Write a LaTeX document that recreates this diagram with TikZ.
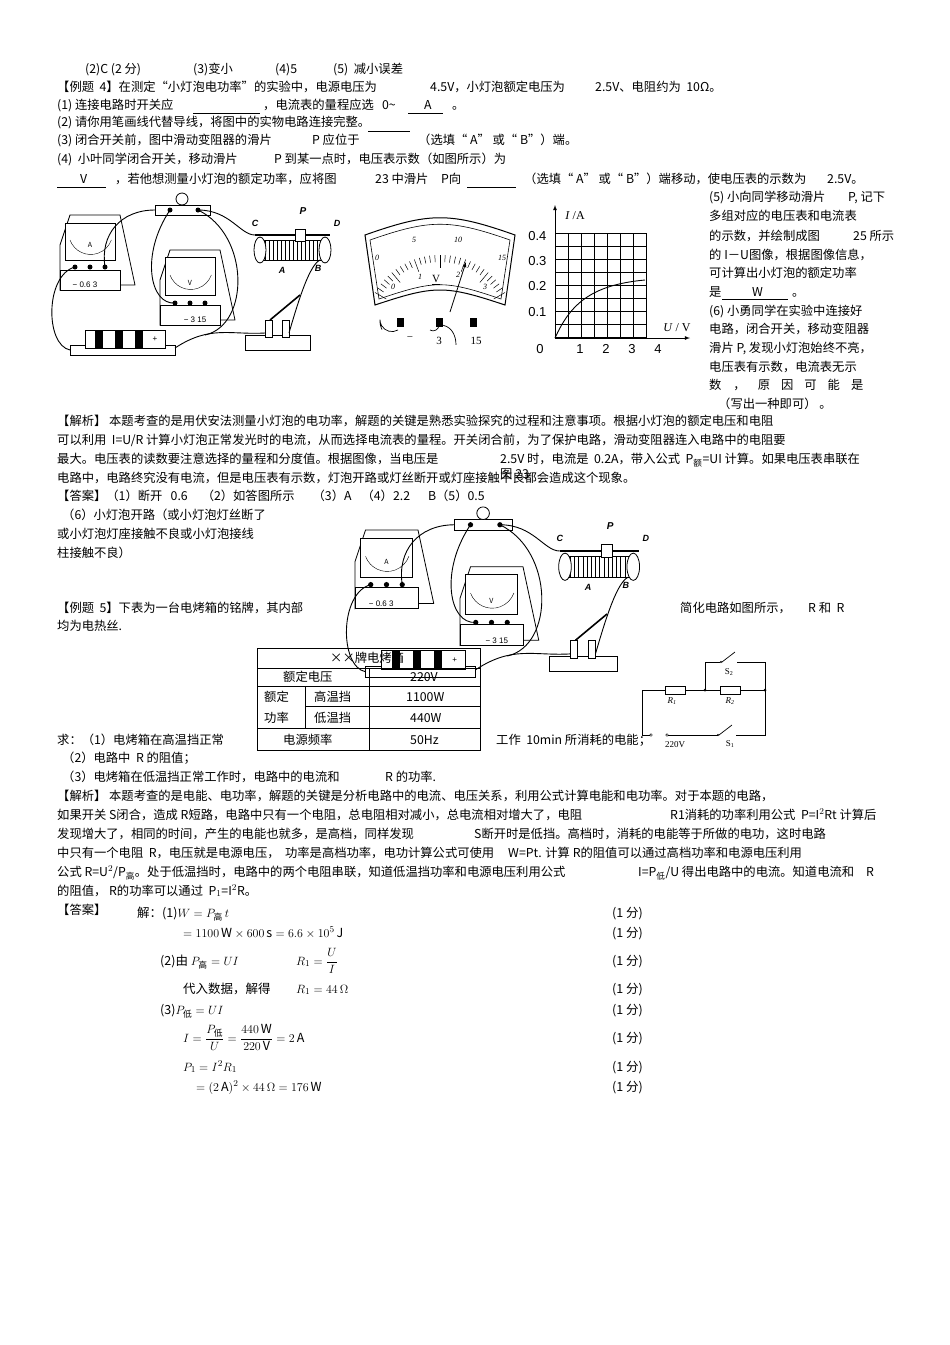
\documentclass[tikz,border=0pt]{standalone}
\usepackage{amsmath}
\usepackage{fontspec}
\setmainfont{Noto Sans CJK SC}
\newfontfamily\lat{Liberation Sans}
\newfontfamily\srf{Liberation Serif}
\begin{document}
\begin{tikzpicture}[x=1pt,y=-1pt,
 txt/.style={anchor=base west,inner sep=0,font=\fontsize{12.3}{14}\selectfont},
 blank/.style={line width=0.6pt},
 dev/.style={draw,line width=0.8pt,fill=white},
 wire/.style={line width=0.9pt},
 grid/.style={line width=0.6pt}]
\useasboundingbox (0,0) rectangle (950,1345);
\newcommand\Tx[3]{\node[txt] at (#1,#2) {#3};}
\newcommand\Ul[3]{\draw[blank] (#1,#3)--(#2,#3);}
% ---------- header lines
\Tx{85}{73}{(2)C (2 分)}
\Tx{193}{73}{(3)变小}
\Tx{275}{73}{(4)5}
\Tx{333}{73}{(5)\ \ 减小误差}
\Tx{57}{91}{【例题\ \ 4】在测定“小灯泡电功率”的实验中，电源电压为}
\Tx{430}{91}{4.5V，小灯泡额定电压为}
\Tx{595}{91}{2.5V、电阻约为\ \ 10Ω。}
\Tx{57}{109}{(1) 连接电路时开关应}
\Ul{193}{260}{113}
\Tx{263}{109}{，电流表的量程应选\ \ \ 0\textasciitilde}
\Tx{424}{109}{A}
\Ul{408}{443}{113}
\Tx{452}{109}{。}
\Tx{57}{126}{(2) 请你用笔画线代替导线，将图中的实物电路连接完整。}
\Tx{57}{144}{(3) 闭合开关前，图中滑动变阻器的滑片}
\Tx{312}{144}{P 应位于}
\Ul{368}{410}{131}
\Tx{418}{144}{（选填“ A” 或“ B”）端。}
\Tx{57}{163}{(4)\ \ 小叶同学闭合开关，移动滑片}
\Tx{274}{163}{P 到某一点时，电压表示数（如图所示）为}
\Ul{57}{106}{187}
\Tx{80}{183}{V}
\Tx{115}{183}{，若他想测量小灯泡的额定功率，应将图}
\Tx{375}{183}{23 中滑片}
\Tx{441}{183}{P向}
\Ul{467}{516}{187}
\Tx{524}{183}{（选填“ A” 或“ B”）端移动，使电压表的示数为}
\Tx{827}{183}{2.5V。}
% ---------- right column
\Tx{709}{201}{(5) 小向同学移动滑片}
\Tx{848}{201}{P, 记下}
\Tx{709}{220}{多组对应的电压表和电流表}
\Tx{709}{240}{的示数，并绘制成图}
\Tx{853}{240}{25 所示}
\Tx{709}{259}{的 I－U图像，根据图像信息，}
\Tx{709}{277}{可计算出小灯泡的额定功率}
\Tx{709}{296}{是}
\Tx{752}{296}{W}
\Ul{722}{788}{299}
\Tx{792}{296}{。}
\Tx{709}{315}{(6) 小勇同学在实验中连接好}
\Tx{709}{333}{电路，闭合开关，移动变阻器}
\Tx{709}{352}{滑片 P, 发现小灯泡始终不亮，}
\Tx{709}{371}{电压表有示数，电流表无示}
\Tx{709}{389}{数\hspace{12pt}，\hspace{12pt}原\hspace{11pt}因\hspace{11pt}可\hspace{11pt}能\hspace{11pt}是}
\Tx{718}{408}{（写出一种即可）\ 。}
% ---------- circuit (figure 1) as reusable pic
\tikzset{circuit/.pic={
 \draw[dev] (0,30)--(10,0)--(60,0)--(75,70)--(10,70)--(0,75)--cycle;
 \draw[dev] (5,8) rectangle (55,45);
 \draw (10,25) arc[start angle=160,end angle=20,radius=22];
 \node[font=\fontsize{7}{7}\selectfont,inner sep=0] at (30,30) {A};
 \draw[dev] (0,55) rectangle (60,75);
 \node[font=\fontsize{8}{8}\selectfont,inner sep=0] at (25,70) {\lat − 0.6 3};
 \foreach \x in {15,30,45}{\fill (\x,52) circle (2.5);}
 \draw[dev] (95,-10) rectangle (150,0);
 \draw[dev] (122,-16) circle (6);
 \fill (110,-5) circle (2.5); \fill (138,-5) circle (2.5);
 \draw[dev] (100,65)--(110,35)--(160,35)--(175,105)--(110,105)--(100,110)--cycle;
 \draw[dev] (105,42) rectangle (155,80);
 \draw (110,60) arc[start angle=160,end angle=20,radius=22];
 \node[font=\fontsize{7}{7}\selectfont,inner sep=0] at (130,68) {V};
 \draw[dev] (100,90) rectangle (160,110);
 \node[font=\fontsize{8}{8}\selectfont,inner sep=0] at (135,105) {\lat − 3 15};
 \foreach \x in {115,130,145}{\fill (\x,88) circle (2.5);}
 \draw[line width=1.5pt] (195,20)--(270,20);
 \draw[dev] (200,25) rectangle (265,45);
 \foreach \x in {205,209,...,260}{\draw (\x,25)--(\x,45);}
 \draw[dev] (235,14) rectangle (245,26);
 \draw[dev] (200,35) ellipse (6 and 13); \draw[dev] (265,35) ellipse (6 and 13);
 \node[font=\bfseries\itshape\fontsize{9}{9}\selectfont] at (195,8) {\lat C};
 \node[font=\bfseries\itshape\fontsize{10}{10}\selectfont] at (243,-4) {\lat P};
 \node[font=\bfseries\itshape\fontsize{9}{9}\selectfont] at (277,8) {\lat D};
 \node[font=\bfseries\itshape\fontsize{9}{9}\selectfont] at (222,55) {\lat A};
 \node[font=\bfseries\itshape\fontsize{9}{9}\selectfont] at (258,53) {\lat B};
 \draw[dev] (10,130) rectangle (115,140);
 \draw[dev] (25,115) rectangle (105,133);
 \foreach \x in {35,55,75}{\fill (\x,115) rectangle (\x+8,133);}
 \node[font=\fontsize{8}{8}\selectfont] at (95,124) {\lat +};
 \draw[dev] (185,120) rectangle (250,135);
 \draw[dev] (205,105) rectangle (212,122);\draw[dev] (222,105) rectangle (229,122);
 \draw[line width=1.6pt] (210,105)--(240,80);
 \draw[wire] (110,-5) .. controls (80,40) and (90,90) .. (115,88);
 \draw[wire] (138,-5) .. controls (190,20) and (190,110) .. (145,120);
 \draw[wire] (138,-5) .. controls (170,-5) and (180,20) .. (195,20);
 \draw[wire] (15,52) .. controls (-15,60) and (-15,130) .. (10,135);
 \draw[wire] (115,133) .. controls (150,110) and (170,120) .. (205,118);
 \draw[wire] (229,118) .. controls (240,80) and (250,50) .. (260,45);
 \draw[wire] (95,-5) .. controls (60,-5) and (40,20) .. (45,52);
}}
\pic at (60,215) {circuit};
\pic[scale=1.05] at (355,530) {circuit};
% ---------- voltmeter dial
\draw[line width=1pt] (365,235) .. controls (430,212) and (450,212) .. (515,235) -- (505,305) .. controls (445,285) and (435,285) .. (375,305) -- cycle;
\draw[line width=0.6pt] (370,240) .. controls (430,219) and (450,219) .. (510,240) -- (501,299) .. controls (445,280) and (435,280) .. (379,299) -- cycle;
\foreach \a in {0,...,30}{
 \pgfmathsetmacro\rr{mod(\a,5)==0?62:68}
 \draw[line width=0.5pt] ({440+75*cos(150-4*\a)},{330-75*sin(150-4*\a)})--({440+\rr*cos(150-4*\a)},{330-\rr*sin(150-4*\a)});}
\node[font=\srf\itshape\fontsize{8}{8}\selectfont] at (377,258) {0};
\node[font=\srf\itshape\fontsize{8}{8}\selectfont] at (414,240) {5};
\node[font=\srf\itshape\fontsize{8}{8}\selectfont] at (458,240) {10};
\node[font=\srf\itshape\fontsize{8}{8}\selectfont] at (502,258) {15};
\node[font=\srf\itshape\fontsize{8}{8}\selectfont] at (393,287) {0};
\node[font=\srf\itshape\fontsize{8}{8}\selectfont] at (420,277) {1};
\node[font=\srf\itshape\fontsize{8}{8}\selectfont] at (458,275) {2};
\node[font=\srf\itshape\fontsize{8}{8}\selectfont] at (485,287) {3};
\node[font=\srf\fontsize{11}{11}\selectfont] (vlab) at (436,280) {\underline{V}};
\draw[-latex,line width=0.8pt] (450,312)--(466,262);
\fill (397,318) rectangle (404,327); \fill (436,318) rectangle (443,327); \fill (470,318) rectangle (477,327);
\node[font=\srf\fontsize{11}{11}\selectfont] at (410,339) {−};
\node[font=\srf\fontsize{11}{11}\selectfont] at (439,341) {3};
\node[font=\srf\fontsize{11}{11}\selectfont] at (476,341) {15};
\draw[line width=0.7pt] (398,330) arc[start angle=60,end angle=180,radius=12] .. controls +(0,5) .. +(2,10);
\draw[line width=0.7pt] (430,330) arc[start angle=120,end angle=0,radius=6] .. controls +(12,0) and +(0,-10) .. +(17,20);
% ---------- I-U graph
\foreach \i in {0,...,7}{\draw[grid] ({555+13*\i},233)--({555+13*\i},338);}
\draw[grid] (646,233)--(646,338);
\foreach \j in {0,...,8}{\draw[grid] (555,{233+13*\j})--(646,{233+13*\j});}
\draw[line width=1pt] (555,259)--(646,259);
\draw[-latex,line width=0.8pt] (555,338)--(555,205);
\draw[-latex,line width=0.8pt] (555,338)--(690,338);
\draw[line width=0.9pt] (555,338) .. controls (570,305) and (590,285) .. (645,280);
\node[font=\lat\fontsize{13}{13}\selectfont,anchor=east] at (550,236) {0.4};
\node[font=\lat\fontsize{13}{13}\selectfont,anchor=east] at (550,261) {0.3};
\node[font=\lat\fontsize{13}{13}\selectfont,anchor=east] at (550,286) {0.2};
\node[font=\lat\fontsize{13}{13}\selectfont,anchor=east] at (550,312) {0.1};
\node[font=\lat\fontsize{13}{13}\selectfont] at (540,349) {0};
\foreach \v/\x in {1/580,2/606,3/632,4/658}{\node[font=\lat\fontsize{13}{13}\selectfont] at (\x,349) {\v};}
\node[font=\srf\fontsize{12}{12}\selectfont] at (575,216) {\textit{I} /A};
\node[font=\srf\fontsize{12}{12}\selectfont] at (677,328) {\textit{U} / V};
% ---------- analysis
\Tx{57}{425}{【解析】\ 本题考查的是用伏安法测量小灯泡的电功率，解题的关键是熟悉实验探究的过程和注意事项。根据小灯泡的额定电压和电阻}
\Tx{57}{444}{可以利用\ \ I=U/R 计算小灯泡正常发光时的电流，从而选择电流表的量程。开关闭合前，为了保护电路，滑动变阻器连入电路中的电阻要}
\Tx{57}{463}{最大。电压表的读数要注意选择的量程和分度值。根据图像，当电压是}
\Tx{500}{463}{2.5V 时，电流是\ \ 0.2A，带入公式\ \ P$_{\text{额}}$=UI 计算。如果电压表串联在}
\Tx{57}{482}{电路中，电路终究没有电流，但是电压表有示数，灯泡开路或灯丝断开或灯座接触不良都会造成这个现象。}
\Tx{500}{478}{图 23}
\Tx{57}{500}{【答案】（1）断开\ \ \ 0.6\hspace{14pt}（2）如答图所示\hspace{18pt}（3）A\hspace{10pt}（4）2.2\hspace{18pt}B（5）0.5}
\Tx{62}{519}{（6）小灯泡开路（或小灯泡灯丝断了}
\Tx{57}{538}{或小灯泡灯座接触不良或小灯泡接线}
\Tx{57}{557}{柱接触不良）}
\Tx{57}{612}{【例题\ \ 5】下表为一台电烤箱的铭牌，其内部}
\Tx{680}{612}{简化电路如图所示，}
\Tx{808}{612}{R 和\ \ R}
\Tx{57}{630}{均为电热丝.}
% ---------- table
\draw[line width=0.8pt] (257,648) rectangle (480,750);
\foreach \y in {668,686,728}{\draw[line width=0.8pt] (257,\y)--(480,\y);}
\draw[line width=0.8pt] (305,706)--(480,706);
\draw[line width=0.8pt] (369,668)--(369,750);
\draw[line width=0.8pt] (305,686)--(305,728);
\Tx{330}{662}{××牌电烤箱}
\Tx{283}{681}{额定电压}\Tx{410}{681}{220V}
\Tx{264}{701}{额定}\Tx{314}{701}{高温挡}\Tx{406}{701}{1100W}
\Tx{264}{722}{功率}\Tx{314}{722}{低温挡}\Tx{410}{722}{440W}
\Tx{283}{744}{电源频率}\Tx{410}{744}{50Hz}
% ---------- oven circuit
\tikzset{sw/.style={line width=0.7pt}}
\draw[sw] (642,735)--(642,690)--(665,690);
\draw[sw,fill=white] (665,686) rectangle (685,694);
\draw[sw] (685,690)--(720,690); \draw[sw,fill=white] (720,686) rectangle (740,694);
\draw[sw] (740,690)--(765,690)--(765,735)--(736,735);
\fill (705,690) circle (1.5); \fill (765,690) circle (1.5);
\draw[sw] (705,690)--(705,662)--(720,662); \draw[sw] (722,662)--(735,652); \draw[sw] (737,662)--(765,662)--(765,690);
\fill (721,662) circle (1.2);
\draw[sw] (642,735)--(650,735); \draw (651,735) circle (1.3); \draw (667,735) circle (1.3);
\draw[sw] (668,735)--(718,735); \fill (718,735) circle (1.2); \draw[sw] (719,735)--(732,725);
\node[font=\srf\itshape\fontsize{9}{9}\selectfont] at (672,701) {R\textsubscript{1}};
\node[font=\srf\itshape\fontsize{9}{9}\selectfont] at (730,701) {R\textsubscript{2}};
\node[font=\srf\fontsize{9}{9}\selectfont] at (729,672) {S\textsubscript{2}};
\node[font=\srf\fontsize{9}{9}\selectfont] at (730,744) {S\textsubscript{1}};
\node[font=\srf\fontsize{9}{9}\selectfont] at (675,745) {220V};
% ---------- questions
\Tx{57}{744}{求：（1）电烤箱在高温挡正常}
\Tx{496}{744}{工作\ \ 10min 所消耗的电能；}
\Tx{62}{762}{（2）电路中\ \ R 的阻值；}
\Tx{62}{781}{（3）电烤箱在低温挡正常工作时，电路中的电流和}
\Tx{385}{781}{R 的功率.}
\Tx{57}{800}{【解析】\ 本题考查的是电能、电功率，解题的关键是分析电路中的电流、电压关系，利用公式计算电能和电功率。对于本题的电路，}
\Tx{57}{819}{如果开关\ S闭合，造成\ R短路，电路中只有一个电阻，总电阻相对减小，总电流相对增大了，电阻}
\Tx{670}{819}{R1消耗的功率利用公式\ \ P=I$^2$Rt 计算后}
\Tx{57}{838}{发现增大了，相同的时间，产生的电能也就多，是高档，同样发现}
\Tx{474}{838}{S断开时是低挡。高档时，消耗的电能等于所做的电功，这时电路}
\Tx{57}{857}{中只有一个电阻\ \ R，电压就是电源电压，\ \ 功率是高档功率，电功计算公式可使用\hspace{14pt}W=Pt. 计算 R的阻值可以通过高档功率和电源电压利用}
\Tx{57}{876}{公式 R=U$^2$/P$_{\text{高}}$。处于低温挡时，电路中的两个电阻串联，知道低温挡功率和电源电压利用公式}
\Tx{638}{876}{I=P$_{\text{低}}$/U 得出电路中的电流。知道电流和\hspace{12pt}R}
\Tx{57}{895}{的阻值，\ R的功率可以通过\ \ P$_1$=I$^2$R。}
\Tx{57}{914}{【答案】}
% ---------- solution
\begin{scope}[every node/.style={anchor=base west,inner sep=0,font=\fontsize{12.5}{14}\selectfont}]
\node at (137,917) {解：(1)$W=P_{\text{高}}\,t$};
\node at (183,937) {$=1100\,\mathrm{W}\times600\,\mathrm{s}=6.6\times10^5\,\mathrm{J}$};
\node at (160,965) {(2)由\ $P_{\text{高}}=UI$};
\node at (296,965) {$R_1=\dfrac{U}{I}$};
\node at (183,993) {代入数据，解得};
\node at (296,993) {$R_1=44\,\Omega$};
\node at (160,1014) {(3)$P_{\text{低}}=UI$};
\node at (183,1042) {$I=\dfrac{P_{\text{低}}}{U}=\dfrac{440\,\mathrm{W}}{220\,\mathrm{V}}=2\,\mathrm{A}$};
\node at (183,1071) {$P_1=I^2R_1$};
\node at (196,1091) {$=(2\,\mathrm{A})^2\times44\,\Omega=176\,\mathrm{W}$};
\foreach \y in {917,937,965,993,1014,1042,1071,1091}{\node at (612,\y) {(1 分)};}
\end{scope}
\end{tikzpicture}
\end{document}
